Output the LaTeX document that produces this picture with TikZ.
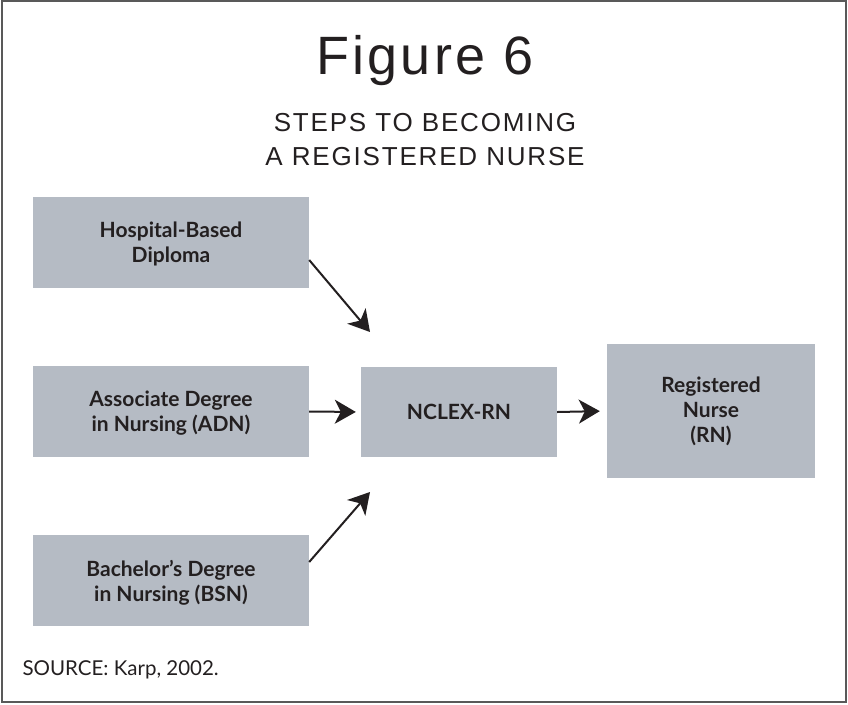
\documentclass[tikz,border=0pt]{standalone}
\usepackage{fontspec}
\setmainfont{Lato}
\newfontfamily\headfont[LetterSpace=6]{Liberation Sans}
\newfontfamily\subheadfont[LetterSpace=7]{Liberation Sans}
\usetikzlibrary{arrows.meta}
\definecolor{boxgray}{RGB}{181,187,196}
\definecolor{inkblack}{RGB}{35,31,32}

\begin{document}
\begin{tikzpicture}[x=1pt, y=-1pt,
        stagebox/.style={fill=boxgray, inner sep=0pt, align=center, text=inkblack,
            font=\fontsize{21}{25}\selectfont\bfseries},
        routebox/.style={stagebox, minimum width=276, minimum height=91, text depth=-3pt},
        flow/.style={line width=2pt, draw=inkblack,
            -{Stealth[length=21pt, width=24pt, inset=6pt]}}]
        \useasboundingbox (0,0) rectangle (848,704);
        % Frame
        \draw [line width=1.5pt, draw=black!65] (2,1) rectangle (846,702);

        % Title
        \node (title) at (425,61) [text=inkblack, font=\headfont\fontsize{54}{60}\selectfont] {Figure 6};
        \node (subtitle) at (425,140) [align=center, text=inkblack,
            font=\subheadfont\fontsize{26}{34}\selectfont] {STEPS TO BECOMING\\A REGISTERED NURSE};

        % Routes
        \node [routebox] (hosp) at (171,242.5) {Hospital-Based\\Diploma};
        \node [routebox] (adn) at (171,411.5) {Associate Degree\\in Nursing (ADN)};
        \node [routebox] (bsn) at (171,580.5) {Bachelor’s Degree\\in Nursing (BSN)};

        % Exam and licence
        \node [stagebox, minimum width=196, minimum height=90] (nclex) at (459,412) {NCLEX-RN};
        \node [stagebox, minimum width=208, minimum height=134] (rn) at (711,411)
            {Registered\\Nurse\\(RN)};

        % Arrows
        \coordinate (hospin) at (370,332);
        \coordinate (bsnin) at (370,492);
        \draw [flow] ([yshift=-17.5pt]hosp.east) -- (hospin);
        \draw [flow, shorten >=5pt] (adn.east) -- (nclex.west);
        \draw [flow] ([yshift=18.5pt]bsn.east) -- (bsnin);
        \draw [flow, shorten >=7pt] (nclex.east) -- (rn.west);

        % Source
        \node [anchor=base west, text=inkblack, font=\fontsize{20.5}{24}\selectfont]
            (source) at (19,675) {SOURCE: Karp, 2002.};
\end{tikzpicture}
\end{document}
